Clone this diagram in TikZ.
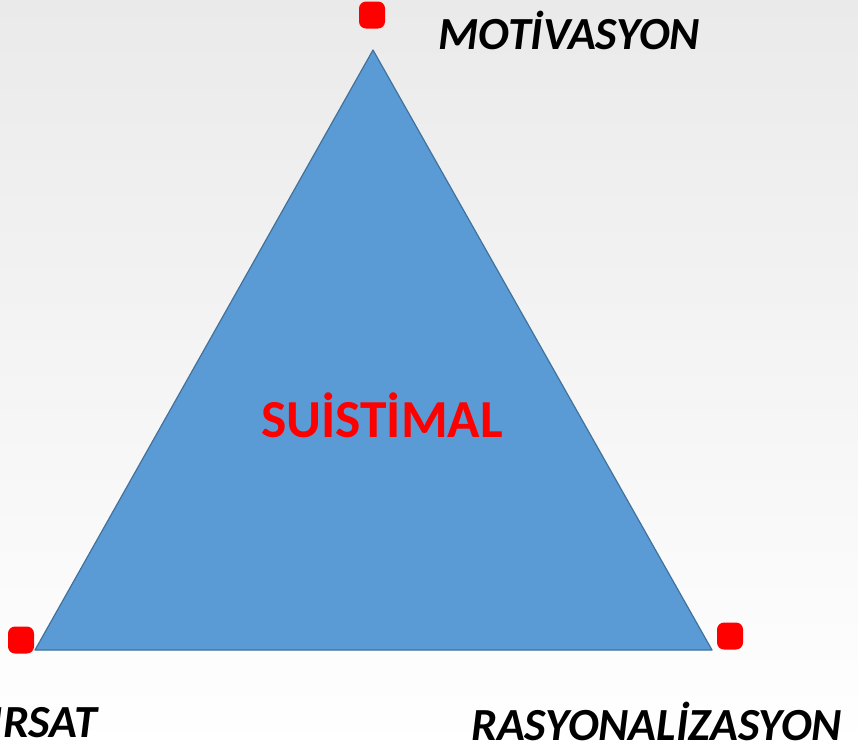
\documentclass[tikz,border=0pt]{standalone}
\usepackage{fontspec}
\usepackage{tikz}
\usepackage{xcolor}
\usetikzlibrary{positioning, calc}
\setmainfont{Carlito}
\definecolor{triblue}{RGB}{91, 155, 213}
\definecolor{triedge}{RGB}{65, 113, 156}
\definecolor{dotred}{RGB}{255, 0, 0}
\definecolor{bgtop}{RGB}{234, 234, 234}

\begin{document}
\begin{tikzpicture}[
    x=1pt, y=-1pt,
    corner/.style={rectangle, rounded corners=7pt, fill=dotred, minimum width=26pt, minimum height=27pt, inner sep=0pt},
    label/.style={inner sep=0pt, font=\fontsize{46}{50}\selectfont\bfseries\itshape, text=black},
    center/.style={inner sep=0pt, font=\fontsize{53.5}{58}\selectfont\bfseries, text=dotred}
]

% Background
\useasboundingbox (0,0) rectangle (858,748);
\clip (0,0) rectangle (858,748);
\shade[top color=bgtop, bottom color=white] (0,0) rectangle (858,748);

% Triangle
\coordinate (apex) at (373,50);
\coordinate (bl) at (35,650);
\coordinate (br) at (712,650);
\draw[fill=triblue, draw=triedge, line width=1.2pt, line join=round] (apex) -- (bl) -- (br) -- cycle;

% Red corner marks
\node[corner] (dtop) at (372,15) {};
\node[corner] (dleft) at (21,640) {};
\node[corner] (dright) at (730,636) {};

% Labels
\node[label, anchor=base west] (motiv) at (438,49) {MOTİVASYON};
\node[label, anchor=base east] (firsat) at (97,737) {FIRSAT};
\node[label, anchor=base west] (rasyon) at (471,740) {RASYONALİZASYON};
\node[center, anchor=base] (suis) at (382,437) {SUİSTİMAL};

\end{tikzpicture}
\end{document}
